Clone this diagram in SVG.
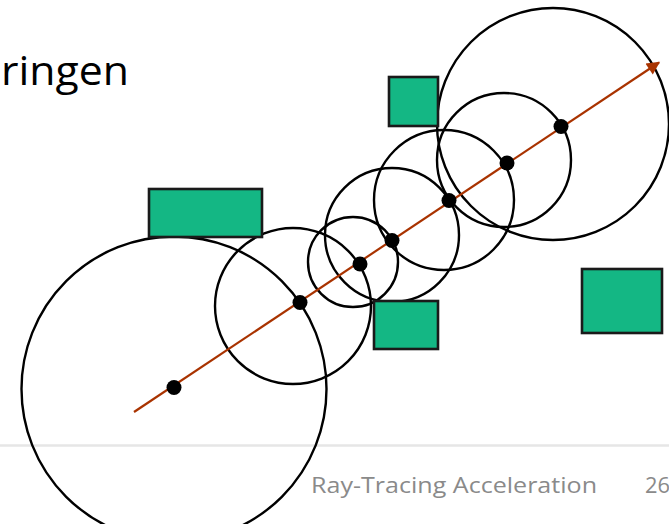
<svg xmlns="http://www.w3.org/2000/svg" width="669" height="524" viewBox="0 0 669 524">
  <style>
    .obj { fill: #14B784; stroke: #1a1a1a; stroke-width: 2.6; }
    .sph { fill: none; stroke: #000; stroke-width: 2.4; }
    .pt { fill: #000; }
    .ray { stroke: #A93300; stroke-width: 2.2; fill: none; }
    .title { font-family: "Open Sans", "Noto Sans", sans-serif; font-size: 41px; fill: #000; }
    .foot { font-family: "Open Sans", "Noto Sans", sans-serif; font-size: 21px; fill: #8a8a8a; }
  </style>
  <defs>
    <marker id="arrow" viewBox="0 0 10 10" refX="9" refY="5" markerWidth="7" markerHeight="6" markerUnits="strokeWidth" orient="auto">
      <path d="M0,0 L10,5 L0,10 z" fill="#A93300"/>
    </marker>
  </defs>
  <rect width="669" height="524" fill="#fff"/>
  <line x1="0" y1="445.5" x2="669" y2="445.5" stroke="#e6e6e6" stroke-width="2.5"/>
  <text class="title" x="1" y="85" textLength="128" lengthAdjust="spacingAndGlyphs">ringen</text>
  <text class="foot" x="311" y="493" textLength="286" lengthAdjust="spacingAndGlyphs">Ray-Tracing Acceleration</text>
  <text class="foot" x="645" y="493" textLength="25" lengthAdjust="spacingAndGlyphs">26</text>

  <g id="spheres">
    <g id="s1"><circle class="sph" cx="174" cy="389" r="152.5"/></g>
    <g id="s2"><circle class="sph" cx="293" cy="306" r="78"/></g>
    <g id="s3"><circle class="sph" cx="353" cy="262" r="45"/></g>
    <g id="s4"><circle class="sph" cx="392" cy="235" r="67"/></g>
    <g id="s5"><circle class="sph" cx="444" cy="200" r="70"/></g>
    <g id="s6"><circle class="sph" cx="504" cy="160" r="67"/></g>
    <g id="s7"><circle class="sph" cx="553" cy="124" r="116"/></g>
  </g>

  <g id="objects">
    <g id="o1"><rect class="obj" x="149" y="189" width="113" height="48"/></g>
    <g id="o2"><rect class="obj" x="389" y="77" width="49" height="49"/></g>
    <g id="o3"><rect class="obj" x="374" y="301" width="64" height="48"/></g>
    <g id="o4"><rect class="obj" x="582" y="269" width="80" height="64"/></g>
  </g>

  <g id="connectors">
    <line class="ray" x1="134" y1="412" x2="659" y2="62.5" marker-end="url(#arrow)"/>
  </g>

  <g id="points">
    <g id="p1"><circle class="pt" cx="174" cy="387.5" r="7.5"/></g>
    <g id="p2"><circle class="pt" cx="300" cy="302.5" r="7.5"/></g>
    <g id="p3"><circle class="pt" cx="360" cy="264" r="7.5"/></g>
    <g id="p4"><circle class="pt" cx="392" cy="240.5" r="7.5"/></g>
    <g id="p5"><circle class="pt" cx="449" cy="200.5" r="7.5"/></g>
    <g id="p6"><circle class="pt" cx="507" cy="163" r="7.5"/></g>
    <g id="p7"><circle class="pt" cx="561" cy="126.5" r="7.5"/></g>
  </g>
</svg>
